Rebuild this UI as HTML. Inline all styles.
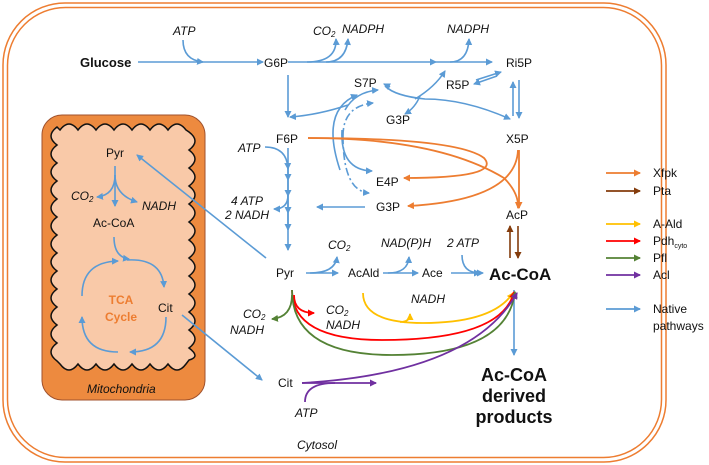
<!DOCTYPE html>
<html><head><meta charset="utf-8"><style>
html,body{margin:0;padding:0;background:#fff;width:709px;height:465px;overflow:hidden}
svg text{font-family:"Liberation Sans",sans-serif;fill:#111}
.i{font-style:italic}
</style></head><body>
<svg width="709" height="465" viewBox="0 0 709 465" xmlns="http://www.w3.org/2000/svg" font-size="12">
<defs>
<marker id="b" markerWidth="8" markerHeight="8" refX="6" refY="4" orient="auto" markerUnits="userSpaceOnUse"><path d="M0,0.5 L7,4 L0,7.5 Z" fill="#5b9bd5"/></marker>
<marker id="o" markerWidth="8" markerHeight="8" refX="6" refY="4" orient="auto" markerUnits="userSpaceOnUse"><path d="M0,0.5 L7,4 L0,7.5 Z" fill="#ed7d31"/></marker>
<marker id="br" markerWidth="8" markerHeight="8" refX="6" refY="4" orient="auto" markerUnits="userSpaceOnUse"><path d="M0,0.5 L7,4 L0,7.5 Z" fill="#843c0c"/></marker>
<marker id="y" markerWidth="8" markerHeight="8" refX="6" refY="4" orient="auto" markerUnits="userSpaceOnUse"><path d="M0,0.5 L7,4 L0,7.5 Z" fill="#ffc000"/></marker>
<marker id="r" markerWidth="8" markerHeight="8" refX="6" refY="4" orient="auto" markerUnits="userSpaceOnUse"><path d="M0,0.5 L7,4 L0,7.5 Z" fill="#ff0000"/></marker>
<marker id="g" markerWidth="8" markerHeight="8" refX="6" refY="4" orient="auto" markerUnits="userSpaceOnUse"><path d="M0,0.5 L7,4 L0,7.5 Z" fill="#548235"/></marker>
<marker id="p" markerWidth="8" markerHeight="8" refX="6" refY="4" orient="auto" markerUnits="userSpaceOnUse"><path d="M0,0.5 L7,4 L0,7.5 Z" fill="#7030a0"/></marker>
</defs>
<rect x="3" y="3" width="663" height="459" rx="62" fill="none" stroke="#ed7d31" stroke-width="1.5"/>
<rect x="7.5" y="7.5" width="654" height="450" rx="58" fill="none" stroke="#ed7d31" stroke-width="1.5"/>
<rect x="42" y="115" width="163" height="285" rx="20" fill="#ed8a3f" stroke="#a0522d" stroke-width="1"/>
<path d="M60,130 q9,-12 18,0 q9,-12 18,0 q9,-12 18,0 q9,-12 18,0 q9,-12 18,0 q9,-12 18,0 q9,-12 18,0 l3,2 q12,9 0,18 q12,9 0,18 q12,9 0,18 q12,9 0,18 q12,9 0,18 q12,9 0,18 q12,9 0,18 q12,9 0,18 q12,9 0,18 q12,9 0,18 q12,9 0,18 q12,9 0,18 q12,9 0,12 l-3,4 q-9,12 -18,0 q-9,12 -18,0 q-9,12 -18,0 q-9,12 -18,0 q-9,12 -18,0 q-9,12 -18,0 q-9,12 -18,0 l-3,-3 q-12,-9 0,-18 q-12,-9 0,-18 q-12,-9 0,-18 q-12,-9 0,-18 q-12,-9 0,-18 q-12,-9 0,-18 q-12,-9 0,-18 q-12,-9 0,-18 q-12,-9 0,-18 q-12,-9 0,-18 q-12,-9 0,-18 q-12,-9 0,-18 q-12,-9 0,-18 Z" fill="#f9c9a8" stroke="#111" stroke-width="1.5"/>
<g fill="none" stroke="#5b9bd5" stroke-width="1.6">
<path d="M115,166 V206" marker-end="url(#b)"/>
<path d="M115,175 q0,20 -18,22" marker-end="url(#b)"/>
<path d="M115,175 q0,20 22,27" marker-end="url(#b)"/>
<path d="M114,237 q0,20 15,22" marker-end="url(#b)"/>
<path d="M127,260 q35,-2 37,27" marker-end="url(#b)"/>
<path d="M82,296 q0,-34 36,-35" marker-end="url(#b)"/>
<path d="M166,317 q0,35 -36,35" marker-end="url(#b)"/>
<path d="M118,352 q-36,0 -36,-35" marker-end="url(#b)"/>
<path d="M266,258 L137,155" marker-end="url(#b)"/>
<path d="M182,315 L262,380" marker-end="url(#b)"/>
<path d="M138,62 H263" marker-end="url(#b)"/>
<path d="M183,40 q0,20 20,22" marker-end="url(#b)"/>
<path d="M288,62 H436" marker-end="url(#b)"/>
<path d="M436,62 H492" marker-end="url(#b)"/>
<path d="M307,62 q30,0 29,-23" marker-end="url(#b)"/>
<path d="M326,62 q20,0 22,-23" marker-end="url(#b)"/>
<path d="M450,62 q18,0 19,-23" marker-end="url(#b)"/>
<path d="M288,75 V117" marker-end="url(#b)"/>
<path d="M288,148 V250" marker-end="url(#b)"/>
<path d="M265,147 q22,0 23,22" marker-end="url(#b)"/>
<path d="M288,165 V180" marker-end="url(#b)"/>
<path d="M288,180 V196" marker-end="url(#b)"/>
<path d="M288,196 V213" marker-end="url(#b)"/>
<path d="M288,213 V230" marker-end="url(#b)"/>
<path d="M288,195 q0,14 -14,14" marker-end="url(#b)"/>
<path d="M365,207 H317" marker-end="url(#b)"/>
<path d="M519,80 V118" marker-end="url(#b)"/>
<path d="M513,116 V82" marker-end="url(#b)"/>
<path d="M476,80 L501,72" marker-end="url(#b)"/>
<path d="M497,76 L474,84" marker-end="url(#b)"/>
<path d="M385,86 q10,10 40,13 q40,0 85,20" marker-end="url(#b)"/>
<path d="M390,87 l-6,-3" marker-end="url(#b)"/>
<path d="M415,99 q20,-12 30,-28" marker-end="url(#b)"/>
<path d="M420,96 q-5,12 -15,18" marker-end="url(#b)"/>
<path d="M340,170 q-20,-60 17,-75" marker-end="url(#b)"/>
<path d="M345,110 q10,-18 33,-20" marker-end="url(#b)"/>
<path d="M348,105 q-30,10 -58,12" marker-end="url(#b)"/>
<path d="M342,130 q-2,40 30,41" marker-end="url(#b)"/>
<path d="M343,136 q0,-30 30,-33" stroke-dasharray="8,3,2,3" marker-end="url(#b)"/>
<path d="M343,136 q0,55 26,57" stroke-dasharray="8,3,2,3" marker-end="url(#b)"/>
<path d="M306,273 H338" marker-end="url(#b)"/>
<path d="M310,273 q25,0 27,-16" marker-end="url(#b)"/>
<path d="M383,273 H418" marker-end="url(#b)"/>
<path d="M388,273 q20,0 21,-16" marker-end="url(#b)"/>
<path d="M451,273 H483" marker-end="url(#b)"/>
<path d="M462,255 q0,18 18,18" marker-end="url(#b)"/>
<path d="M514,290 V355" marker-end="url(#b)"/>
</g>
<g fill="none" stroke="#ed7d31" stroke-width="1.8">
<path d="M308,138 q150,0 176,20 q18,20 -80,20" marker-end="url(#o)"/>
<path d="M308,138 q130,0 196,40 q15,15 14,30" marker-end="url(#o)"/>
<path d="M519,150 V208" marker-end="url(#o)"/>
<path d="M518,150 q-2,50 -110,56" marker-end="url(#o)"/>
</g>
<g fill="none" stroke="#843c0c" stroke-width="1.6">
<path d="M510,258 V226" marker-end="url(#br)"/>
<path d="M518,226 V258" marker-end="url(#br)"/>
</g>
<g fill="none" stroke-width="1.8">
<path d="M363,293 q0,30 60,30 q70,0 90,-30" stroke="#ffc000" marker-end="url(#y)"/>
<path d="M400,322 q10,0 10,-8" stroke="#ffc000" marker-end="url(#y)"/>
<path d="M292,290 q0,50 90,50 q120,0 132,-48" stroke="#ff0000" marker-end="url(#r)"/>
<path d="M294,295 q0,18 20,18" stroke="#ff0000" marker-end="url(#r)"/>
<path d="M292,290 q0,65 100,65 q115,0 123,-63" stroke="#548235" marker-end="url(#g)"/>
<path d="M292,295 q0,22 -20,24" stroke="#548235" marker-end="url(#g)"/>
<path d="M302,383 q170,-10 215,-90" stroke="#7030a0" marker-end="url(#p)"/>
<path d="M302,383 H376" stroke="#7030a0" marker-end="url(#p)"/>
<path d="M305,402 q0,-19 30,-19" stroke="#7030a0"/>
</g>
<g stroke-width="1.8" fill="none">
<path d="M606,173 H640" stroke="#ed7d31" marker-end="url(#o)"/>
<path d="M606,191 H640" stroke="#843c0c" marker-end="url(#br)"/>
<path d="M606,224 H640" stroke="#ffc000" marker-end="url(#y)"/>
<path d="M606,241 H640" stroke="#ff0000" marker-end="url(#r)"/>
<path d="M606,258 H640" stroke="#548235" marker-end="url(#g)"/>
<path d="M606,275 H640" stroke="#7030a0" marker-end="url(#p)"/>
<path d="M606,309 H640" stroke="#5b9bd5" marker-end="url(#b)"/>
</g>
<text x="653" y="177">Xfpk</text>
<text x="653" y="195">Pta</text>
<text x="653" y="228">A-Ald</text>
<text x="653" y="245">Pdh<tspan font-size="7" dy="3">cyto</tspan></text>
<text x="653" y="262">Pfl</text>
<text x="653" y="279">Acl</text>
<text x="653" y="313">Native</text>
<text x="653" y="330">pathways</text>
<text x="80" y="67" font-weight="bold" font-size="13">Glucose</text>
<text x="173" y="35" class="i">ATP</text>
<text x="264" y="67">G6P</text>
<text x="313" y="35" class="i">CO<tspan font-size="8" dy="2">2</tspan></text>
<text x="342" y="35" class="i" dy="-2">NADPH</text>
<text x="447" y="33" class="i">NADPH</text>
<text x="506" y="67">Ri5P</text>
<text x="354" y="87">S7P</text>
<text x="446" y="89">R5P</text>
<text x="386" y="124">G3P</text>
<text x="506" y="143">X5P</text>
<text x="276" y="143">F6P</text>
<text x="238" y="152" class="i">ATP</text>
<text x="376" y="186">E4P</text>
<text x="376" y="211">G3P</text>
<text x="506" y="219">AcP</text>
<text x="231" y="205" class="i">4 ATP</text>
<text x="225" y="219" class="i">2 NADH</text>
<text x="276" y="277">Pyr</text>
<text x="328" y="249" class="i">CO<tspan font-size="8" dy="2">2</tspan></text>
<text x="381" y="247" class="i">NAD(P)H</text>
<text x="348" y="277">AcAld</text>
<text x="422" y="277">Ace</text>
<text x="447" y="247" class="i">2 ATP</text>
<text x="489" y="280" font-weight="bold" font-size="17">Ac-CoA</text>
<text x="411" y="303" class="i">NADH</text>
<text x="326" y="314" class="i">CO<tspan font-size="8" dy="2">2</tspan></text>
<text x="326" y="329" class="i">NADH</text>
<text x="243" y="318" class="i">CO<tspan font-size="8" dy="2">2</tspan></text>
<text x="230" y="334" class="i">NADH</text>
<text x="278" y="387">Cit</text>
<text x="295" y="417" class="i">ATP</text>
<text x="297" y="449" class="i">Cytosol</text>
<text x="514" y="381" font-weight="bold" font-size="18" text-anchor="middle">Ac-CoA</text>
<text x="514" y="402" font-weight="bold" font-size="18" text-anchor="middle">derived</text>
<text x="514" y="423" font-weight="bold" font-size="18" text-anchor="middle">products</text>
<text x="106" y="157">Pyr</text>
<text x="71" y="200" class="i">CO<tspan font-size="8" dy="2">2</tspan></text>
<text x="142" y="210" class="i">NADH</text>
<text x="93" y="227">Ac-CoA</text>
<text x="121" y="304" font-weight="bold" style="fill:#ed7d31" text-anchor="middle">TCA</text>
<text x="121" y="321" font-weight="bold" style="fill:#ed7d31" text-anchor="middle">Cycle</text>
<text x="158" y="312">Cit</text>
<text x="87" y="393" class="i">Mitochondria</text>
</svg>
</body></html>
